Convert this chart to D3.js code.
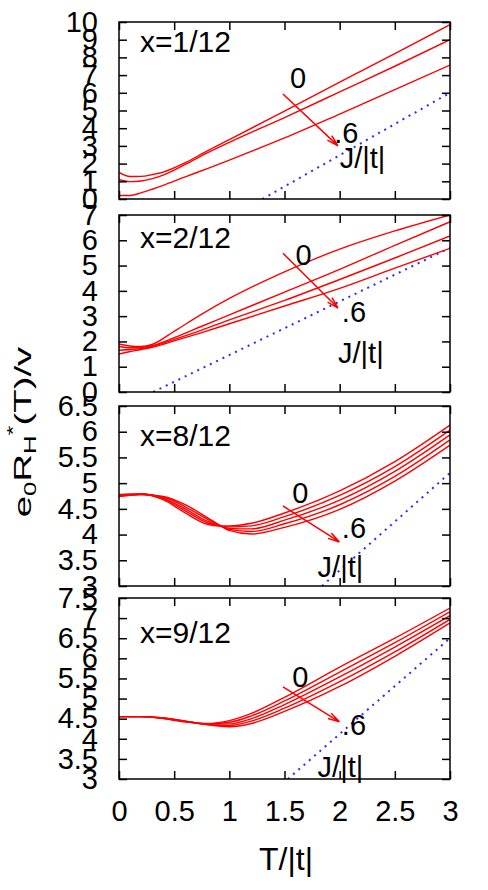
<!DOCTYPE html>
<html>
<head>
<meta charset="utf-8">
<script src="https://cdn.jsdelivr.net/npm/d3@7"></script>
<style>
  body { margin: 0; background: #fff; }
  text { font-family: "Liberation Sans", Arial, sans-serif; fill: #000; }
</style>
</head>
<body>
<svg id="chart" width="488" height="890"></svg>
<script>
// shared x axis
const tTicks = [0, 0.5, 1, 1.5, 2, 2.5, 3];

// panel captions and y ranges
const panelLabels = ["x=1/12", "x=2/12", "x=8/12", "x=9/12"];
const yRanges = [[0, 10], [0, 7], [3, 6.5], [3, 7.5]];
const yTickSteps = [1, 1, 0.5, 0.5];
const annoTexts = ["0", ".6", "J/|t|"];

// panel 1 (x=1/12)
const t1 = [0, 0.1, 0.2, 0.3, 0.4, 0.6, 0.8, 1, 1.5, 2, 2.5, 3];
const p1Curves = [
  [1.5, 1.27, 1.28, 1.38, 1.52, 2.05, 2.72, 3.35, 4.97, 6.6, 8.22, 9.85],
  [1.1, 0.98, 1.02, 1.15, 1.35, 1.95, 2.6, 3.2, 4.6, 6.05, 7.5, 9.0],
  [0.2, 0.2, 0.35, 0.55, 0.77, 1.25, 1.72, 2.2, 3.45, 4.8, 6.18, 7.57]
];
const p1Blue = [[1.3, 0], [3, 6]];
const p1Arrow = [[1.486, 5.93], [1.985, 3.0]];
const p1Anno = [[1.55, 6.27], [1.95, 3.16], [2.0, 1.75]];

// panel 2 (x=2/12)
const t2 = [0, 0.1, 0.2, 0.3, 0.5, 0.75, 1, 1.5, 2, 2.5, 3];
const p2Curves = [
  [1.9, 1.82, 1.8, 1.88, 2.4, 3.08, 3.7, 4.75, 5.65, 6.37, 7.0],
  [1.8, 1.75, 1.76, 1.83, 2.15, 2.6, 3.05, 3.95, 4.85, 5.8, 6.73],
  [1.65, 1.68, 1.72, 1.8, 2.08, 2.45, 2.85, 3.62, 4.45, 5.3, 6.17],
  [1.5, 1.6, 1.68, 1.77, 2.02, 2.35, 2.7, 3.4, 4.1, 4.9, 5.68]
];
const p2Blue = [[0.31, 0], [3, 5.7]];
const p2Arrow = [[1.486, 5.49], [1.985, 3.32]];
const p2Anno = [[1.6, 5.02], [2.02, 2.77], [1.985, 1.15]];

// panel 3 (x=8/12)
const t3 = [0, 0.2, 0.4, 0.6, 0.8, 0.9, 1, 1.2, 1.5, 2, 2.5, 3];
const p3Curves = [
  [4.78, 4.79, 4.68, 4.42, 4.2, 4.17, 4.17, 4.22, 4.42, 4.85, 5.42, 6.13],
  [4.77, 4.79, 4.7, 4.46, 4.23, 4.17, 4.15, 4.17, 4.35, 4.76, 5.32, 6.03],
  [4.76, 4.79, 4.71, 4.5, 4.26, 4.18, 4.12, 4.11, 4.28, 4.67, 5.23, 5.94],
  [4.75, 4.78, 4.73, 4.54, 4.3, 4.19, 4.1, 4.06, 4.21, 4.58, 5.13, 5.84],
  [4.74, 4.78, 4.74, 4.58, 4.33, 4.2, 4.08, 4.01, 4.14, 4.49, 5.04, 5.74]
];
const p3Blue = [[1.84, 3], [3, 5.2]];
const p3Arrow = [[1.486, 4.556], [1.998, 3.856]];
const p3Anno = [[1.57, 4.61], [2.02, 3.93], [1.8, 3.17]];

// panel 4 (x=9/12)
const t4 = [0, 0.2, 0.4, 0.6, 0.8, 1, 1.2, 1.5, 2, 2.5, 3];
const p4Curves = [
  [4.55, 4.55, 4.5, 4.42, 4.38, 4.45, 4.63, 5.03, 5.78, 6.5, 7.25],
  [4.55, 4.55, 4.51, 4.43, 4.37, 4.41, 4.57, 4.94, 5.66, 6.39, 7.16],
  [4.55, 4.55, 4.51, 4.43, 4.36, 4.37, 4.5, 4.85, 5.54, 6.28, 7.06],
  [4.55, 4.55, 4.52, 4.44, 4.36, 4.33, 4.44, 4.76, 5.42, 6.16, 6.97],
  [4.55, 4.55, 4.52, 4.44, 4.35, 4.3, 4.38, 4.68, 5.3, 6.05, 6.88]
];
const p4Blue = [[1.53, 3], [3, 6.5]];
const p4Arrow = [[1.486, 5.29], [1.998, 4.42]];
const p4Anno = [[1.57, 5.29], [2.02, 4.09], [1.8, 3.05]];

const svg = d3.select("#chart");
const left = 119, right = 450;

// frame layout of the stacked panels
const frames = [
  { top: 22, bottom: 199, labelDy: 30 },
  { top: 215, bottom: 392, labelDy: 33 },
  { top: 406, bottom: 586, labelDy: 40 },
  { top: 598, bottom: 779, labelDy: 45 }
];

const panels = [
  { t: t1, curves: p1Curves, blue: p1Blue, arrow: p1Arrow, anno: p1Anno },
  { t: t2, curves: p2Curves, blue: p2Blue, arrow: p2Arrow, anno: p2Anno },
  { t: t3, curves: p3Curves, blue: p3Blue, arrow: p3Arrow, anno: p3Anno },
  { t: t4, curves: p4Curves, blue: p4Blue, arrow: p4Arrow, anno: p4Anno }
];

const x = d3.scaleLinear().domain([0, 3]).range([left, right]);

panels.forEach((p, i) => {
  const f = frames[i];
  const y = d3.scaleLinear().domain(yRanges[i]).range([f.bottom, f.top]);
  const g = svg.append("g");

  // clip to plot box
  const clipId = "clip" + i;
  svg.append("clipPath").attr("id", clipId)
    .append("rect")
    .attr("x", left).attr("y", f.top)
    .attr("width", right - left).attr("height", f.bottom - f.top);

  const plot = g.append("g").attr("clip-path", `url(#${clipId})`);

  // blue dotted reference line
  plot.append("path")
    .datum(p.blue)
    .attr("d", d3.line().x((d) => x(d[0])).y((d) => y(d[1])))
    .attr("fill", "none")
    .attr("stroke", "#2a2aff")
    .attr("stroke-width", 2)
    .attr("stroke-dasharray", "2,5");

  // red curves
  const line = d3.line()
    .x((d) => x(d[0]))
    .y((d) => y(d[1]))
    .curve(d3.curveMonotoneX);

  p.curves.forEach((vals) => {
    plot.append("path")
      .datum(vals.map((v, k) => [p.t[k], v]))
      .attr("d", line)
      .attr("fill", "none")
      .attr("stroke", "#ff0000")
      .attr("stroke-width", 1.4);
  });

  // arrow with open head
  const a0 = [x(p.arrow[0][0]), y(p.arrow[0][1])];
  const a1 = [x(p.arrow[1][0]), y(p.arrow[1][1])];
  const ang = Math.atan2(a1[1] - a0[1], a1[0] - a0[0]);
  const headLen = 12, headAng = Math.PI / 12;
  const arrowPath = d3.path();
  arrowPath.moveTo(a0[0], a0[1]);
  arrowPath.lineTo(a1[0], a1[1]);
  [-headAng, headAng].forEach((da) => {
    arrowPath.moveTo(a1[0], a1[1]);
    arrowPath.lineTo(a1[0] - headLen * Math.cos(ang + da), a1[1] - headLen * Math.sin(ang + da));
  });
  g.append("path")
    .attr("d", arrowPath.toString())
    .attr("fill", "none")
    .attr("stroke", "#ff0000")
    .attr("stroke-width", 1.5);

  // annotations "0", ".6", "J/|t|"
  g.selectAll("text.anno")
    .data(p.anno)
    .enter()
    .append("text")
    .attr("class", "anno")
    .attr("x", (d) => x(d[0]))
    .attr("y", (d) => y(d[1]))
    .attr("font-size", 29)
    .text((d, k) => annoTexts[k]);

  // panel caption
  g.append("text")
    .attr("x", left + 21)
    .attr("y", f.top + f.labelDy)
    .attr("font-size", 30)
    .text(panelLabels[i]);

  // ticks: left with labels, others mirrored inward
  const yTicks = d3.range(yRanges[i][0], yRanges[i][1] + 1e-9, yTickSteps[i]);
  const fmt = (d) => String(+d.toFixed(1));

  const yAxis = g.append("g")
    .attr("transform", `translate(${left},0)`)
    .call(d3.axisLeft(y).tickValues(yTicks).tickSizeInner(-8).tickSizeOuter(0).tickPadding(21).tickFormat(fmt));

  g.append("g")
    .attr("transform", `translate(${right},0)`)
    .call(d3.axisRight(y).tickValues(yTicks).tickSizeInner(-8).tickSizeOuter(0).tickFormat(""));

  g.append("g")
    .attr("transform", `translate(0,${f.top})`)
    .call(d3.axisTop(x).tickValues(tTicks).tickSizeInner(-8).tickSizeOuter(0).tickFormat(""));

  const xAxis = g.append("g")
    .attr("transform", `translate(0,${f.bottom})`)
    .call(d3.axisBottom(x).tickValues(tTicks).tickSizeInner(-8).tickSizeOuter(0).tickPadding(21)
      .tickFormat(i === panels.length - 1 ? fmt : ""));

  [yAxis, xAxis].forEach((ax) => {
    ax.attr("font-family", null).attr("font-size", null);
    ax.selectAll("text").attr("font-size", 29);
  });
  g.selectAll(".domain").remove();
  g.selectAll(".tick line").attr("stroke", "#000").attr("stroke-width", 1.5);

  // border
  g.append("rect")
    .attr("x", left).attr("y", f.top)
    .attr("width", right - left).attr("height", f.bottom - f.top)
    .attr("fill", "none")
    .attr("stroke", "#000")
    .attr("stroke-width", 1.5);
});

// x axis title
svg.append("text")
  .attr("x", 286)
  .attr("y", 870)
  .attr("text-anchor", "middle")
  .attr("font-size", 32)
  .text("T/|t|");

// y axis title: e0 RH*(T)/v
const yTitle = svg.append("text")
  .attr("transform", "translate(31,432) rotate(-90) scale(1.6,1)")
  .attr("text-anchor", "middle")
  .attr("font-size", 24);
yTitle.append("tspan").text("e");
yTitle.append("tspan").attr("font-size", 16).attr("dy", 5).text("0");
yTitle.append("tspan").attr("dy", -5).text("R");
yTitle.append("tspan").attr("font-size", 16).attr("dy", 5).text("H");
yTitle.append("tspan").attr("font-size", 16).attr("dy", -17).text("*");
yTitle.append("tspan").attr("dy", 12).text("(T)/v");
</script>
</body>
</html>
